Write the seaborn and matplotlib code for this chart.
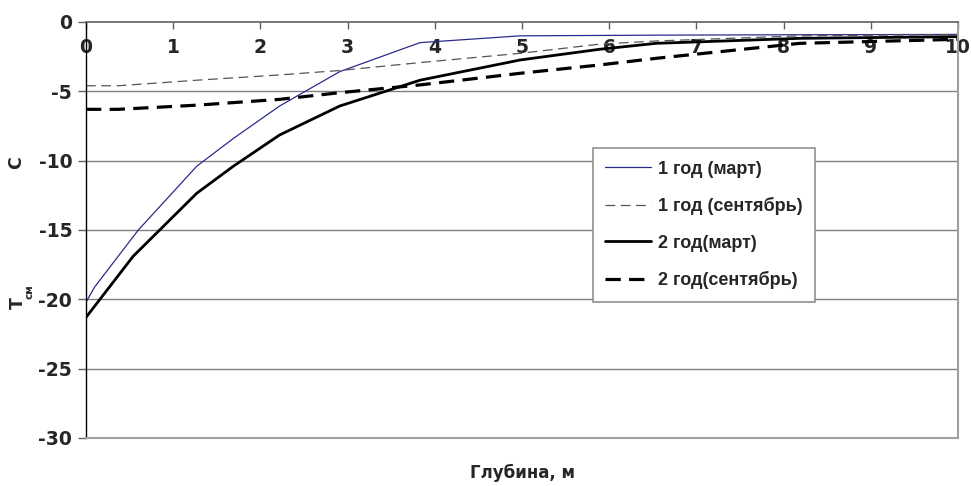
import matplotlib
matplotlib.use('Agg')
import matplotlib.pyplot as plt
import seaborn as sns
import pandas as pd

sns.set_theme(style='white')
plt.rcParams['font.family'] = ['Liberation Sans', 'DejaVu Sans']
plt.rcParams['font.weight'] = 'bold'
plt.rcParams['lines.scale_dashes'] = False

# глубина, м и температура, °С
depth_1_mar = [0, 0.1, 0.6, 1.27, 1.69, 2.22, 2.91, 3.83, 4.98, 6.6, 8.2, 10]
temp_1_mar = [-20.2, -19.1, -15.0, -10.4, -8.4, -6.06, -3.58, -1.49, -1.0, -0.95, -0.92, -0.9]

depth_1_sep = [0, 0.37, 1.27, 2.22, 2.91, 3.83, 4.98, 5.89, 6.54, 8.19, 10]
temp_1_sep = [-4.6, -4.6, -4.2, -3.82, -3.5, -2.93, -2.26, -1.6, -1.37, -1.0, -0.9]

depth_2_mar = [0, 0.54, 1.27, 1.69, 2.22, 2.91, 3.83, 4.98, 5.89, 6.54, 8.19, 10]
temp_2_mar = [-21.3, -16.9, -12.35, -10.4, -8.15, -6.06, -4.2, -2.74, -1.97, -1.54, -1.18, -1.06]

depth_2_sep = [0, 0.37, 1.27, 2.22, 2.91, 3.83, 4.98, 5.89, 6.54, 8.19, 10]
temp_2_sep = [-6.3, -6.3, -6.0, -5.58, -5.1, -4.54, -3.7, -3.1, -2.62, -1.54, -1.25]

x_ticks = list(range(0, 11))
y_ticks = [0, -5, -10, -15, -20, -25, -30]

wide = ['DejaVu Sans', 'Liberation Sans']

fig = plt.figure(figsize=(9.71, 4.86), dpi=100)
ax = fig.add_axes([0.0886, 0.0988, 0.898, 0.856])

series = [
    ('1 год (март)', depth_1_mar, temp_1_mar, dict(color='#2b2b8c', lw=0.9, linestyle='-')),
    ('1 год (сентябрь)', depth_1_sep, temp_1_sep, dict(color='#555555', lw=0.9, linestyle=(0, (7, 4)))),
    ('2 год(март)', depth_2_mar, temp_2_mar, dict(color='black', lw=2.0, linestyle='-')),
    ('2 год(сентябрь)', depth_2_sep, temp_2_sep, dict(color='black', lw=2.3, linestyle=(0, (11, 6)))),
]
for name, d, t, st in series:
    df = pd.DataFrame({'Глубина': d, 'T': t})
    sns.lineplot(data=df, x='Глубина', y='T', ax=ax, label=name, sort=False, **st)

ax.set_xlim(0, 10)
ax.set_ylim(-30, 0)
ax.set_xticks(x_ticks)
ax.set_yticks(y_ticks)
ax.set_xticklabels([str(v) for v in x_ticks], family=wide, fontsize=13.5, fontweight='bold')
ax.set_yticklabels([str(v) for v in y_ticks], family=wide, fontsize=13.5, fontweight='bold')

for y in y_ticks[1:-1]:
    ax.axhline(y, color='#808080', lw=1.0, zorder=0)

ax.spines['left'].set_color('black')
ax.spines['left'].set_linewidth(1.0)
ax.spines['top'].set_color('#606060')
ax.spines['top'].set_linewidth(1.2)
for s in ['right', 'bottom']:
    ax.spines[s].set_color('#a0a0a0')
    ax.spines[s].set_linewidth(1.5)

ax.tick_params(axis='x', top=True, bottom=False, labeltop=True, labelbottom=False,
               direction='in', length=5, width=1, color='#606060', pad=-25)
ax.tick_params(axis='y', left=True, direction='out', length=6, width=1, color='#606060', pad=4)

ax.set_xlabel('')
ax.set_ylabel('')
fig.text(0.5376, 0.027, 'Глубина, м', ha='center', va='center', fontsize=12,
         fontweight='bold', family=wide)

# подпись оси Y как в исходнике
fig.text(0.018, 1 - 303 / 486, 'Т', rotation=90, ha='center', va='center',
         fontsize=12.5, fontweight='bold', family=wide)
fig.text(0.0305, 1 - 292 / 486, 'см', rotation=90, ha='center', va='center',
         fontsize=7.5, fontweight='bold', family=wide)
fig.text(0.017, 1 - 163 / 486, 'С', rotation=90, ha='center', va='center',
         fontsize=12.5, fontweight='bold', family=wide)

leg = ax.legend(loc='upper left', bbox_to_anchor=(0.581, 0.697), borderaxespad=0,
                fancybox=False, framealpha=1, edgecolor='#909090', fontsize=13,
                handlelength=2.55, handletextpad=0.35, labelspacing=1.08,
                borderpad=0.7)
leg.get_frame().set_linewidth(1.2)

fig.savefig('out.png', dpi=100)
